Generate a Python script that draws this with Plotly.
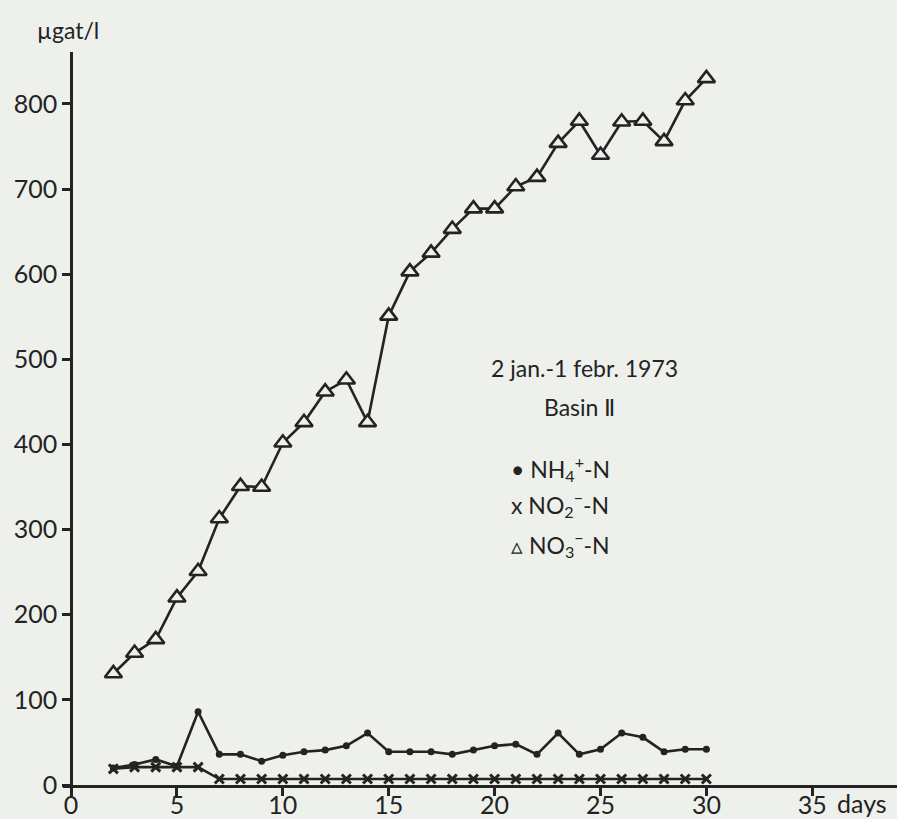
import plotly.graph_objects as go

days = list(range(2, 31))
nh4 = [20, 24, 30, 22, 86, 36, 36, 28, 35, 39, 41, 46, 61, 39, 39, 39, 36, 41, 46, 48, 36, 61, 36, 42, 61, 56, 39, 42, 42]
no2 = [19, 21, 21, 21, 21, 7, 7, 7, 7, 7, 7, 7, 7, 7, 7, 7, 7, 7, 7, 7, 7, 7, 7, 7, 7, 7, 7, 7, 7]
no3 = [131, 155, 171, 220, 251, 313, 351, 350, 402, 426, 462, 476, 426, 551, 603, 625, 653, 677, 677, 703, 714, 754, 780, 740, 779, 780, 756, 804, 830]

x_ticks = [0, 5, 10, 15, 20, 25, 30, 35]
y_ticks = [0, 100, 200, 300, 400, 500, 600, 700, 800]

BG = "#eef0eb"
INK = "#232323"
FONT = "Lato"

fig = go.Figure()
fig.add_trace(go.Scatter(x=days, y=nh4, mode="lines+markers", name="NH4",
                         line=dict(color=INK, width=2.6),
                         marker=dict(symbol="circle", size=7, color=INK)))
fig.add_trace(go.Scatter(x=days, y=no2, mode="lines+markers", name="NO2",
                         line=dict(color=INK, width=2.6),
                         marker=dict(symbol="x-thin", size=9, color=INK,
                                     line=dict(color=INK, width=3))))
fig.add_trace(go.Scatter(x=days, y=no3, mode="lines+markers", name="NO3",
                         line=dict(color=INK, width=2.6),
                         marker=dict(symbol="triangle-up", size=15, color=BG,
                                     line=dict(color=INK, width=2.6))))

fig.update_layout(
    width=897, height=819,
    margin=dict(l=63, r=0, t=52, b=34, autoexpand=False),
    paper_bgcolor=BG, plot_bgcolor=BG,
    showlegend=False,
    font=dict(family=FONT, color=INK, size=24),
    xaxis=dict(range=[-0.38, 39], tickvals=x_ticks, ticktext=[str(v) for v in x_ticks],
               automargin=False, ticklabelstandoff=-12,
               showgrid=False, zeroline=False, showline=True, linecolor=INK, linewidth=2.6,
               ticks="outside", ticklen=8, tickwidth=2.6, tickcolor=INK,
               tickfont=dict(size=25, family=FONT, color=INK)),
    yaxis=dict(range=[0, 861], tickvals=y_ticks, ticktext=[str(v) for v in y_ticks],
               anchor="free", position=0.38 / 39.38, automargin=False,
               showgrid=False, zeroline=False, showline=True, linecolor=INK, linewidth=2.6,
               ticks="outside", ticklen=8, tickwidth=2.6, tickcolor=INK,
               tickfont=dict(size=25, family=FONT, color=INK)),
)

ann = dict(showarrow=False, font=dict(family=FONT, size=23, color=INK))
fig.add_annotation(xref="paper", yref="paper", x=0.958, y=-0.024, text="days",
                   xanchor="center", yanchor="middle", showarrow=False,
                   font=dict(family=FONT, size=25, color=INK))
fig.add_annotation(xref="paper", yref="paper", x=-0.0336, y=1.030, text="µgat/l",
                   xanchor="left", yanchor="middle", **ann)
fig.add_annotation(x=24.24, y=490, text="2 jan.-1 febr. 1973", xanchor="center", yanchor="middle", **ann)
fig.add_annotation(x=24.0, y=444, text="Basin Ⅱ", xanchor="center", yanchor="middle", **ann)
fig.add_annotation(x=20.7, y=372, text="• NH<sub>4</sub><sup>+</sup>-N", xanchor="left", yanchor="middle", **ann)
fig.add_annotation(x=20.7, y=329, text="x NO<sub>2</sub><sup>−</sup>-N", xanchor="left", yanchor="middle", **ann)
fig.add_annotation(x=20.7, y=283, text="▵ NO<sub>3</sub><sup>−</sup>-N", xanchor="left", yanchor="middle", **ann)

fig.write_html("out.html", config={"displayModeBar": False},
               post_script="document.body.style.margin='0';document.body.style.padding='0';")
